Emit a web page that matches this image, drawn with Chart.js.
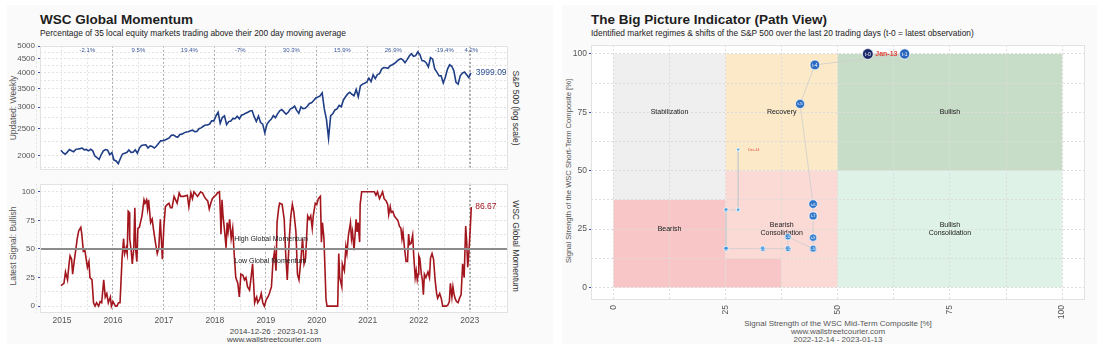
<!DOCTYPE html>
<html>
<head>
<meta charset="utf-8">
<script src="https://cdn.jsdelivr.net/npm/chart.js@4.4.0/dist/chart.umd.min.js"></script>
<style>
  body { margin: 0; width: 1103px; height: 354px; background: #fff; position: relative; overflow: hidden;
         font-family: "Liberation Sans", Arial, sans-serif; }
  .panel { position: absolute; background: #fafafa; }
  .txt { position: absolute; white-space: nowrap; line-height: 1; }
  .title { font-weight: bold; font-size: 13.5px; color: #1e1e1e; }
  .sub { font-size: 8.4px; color: #222; }
  .rotL { transform: translate(-50%, -50%) rotate(-90deg); }
  .rotR { transform: translate(-50%, -50%) rotate(90deg); }
  .ctr { transform: translateX(-50%); text-align: center; }
  canvas { position: absolute; }
</style>
</head>
<body>
<div class="panel" style="left:7px;top:5px;width:546px;height:339px"></div>
<div class="panel" style="left:562px;top:5px;width:535px;height:339px"></div>

<div class="txt title" style="left:40px;top:13px">WSC Global Momentum</div>
<div class="txt sub" style="left:40px;top:29px">Percentage of 35 local equity markets trading above their 200 day moving average</div>
<div class="txt rotL" style="left:13px;top:108px;font-size:8.5px;color:#555">Updated: Weekly</div>
<div class="txt rotL" style="left:13px;top:246px;font-size:8.5px;color:#555">Latest Signal: Bullish</div>
<div class="txt rotR" style="left:516px;top:108px;font-size:8.5px;color:#333">S&amp;P 500 (log scale)</div>
<div class="txt rotR" style="left:516px;top:246px;font-size:8.5px;color:#333">WSC Global Momentum</div>
<div class="txt ctr" style="left:274px;top:328px;font-size:8px;color:#444">2014-12-26 : 2023-01-13</div>
<div class="txt ctr" style="left:274px;top:336px;font-size:8px;color:#444">www.wallstreetcourier.com</div>

<div class="txt title" style="left:591px;top:13px">The Big Picture Indicator (Path View)</div>
<div class="txt sub" style="left:591px;top:29px">Identified market regimes &amp; shifts of the S&amp;P 500 over the last 20 trading days (t-0 = latest observation)</div>
<div class="txt rotL" style="left:569px;top:171px;font-size:7.6px;color:#555">Signal Strength of the WSC Short-Term Composite [%]</div>
<div class="txt ctr" style="left:838px;top:320px;font-size:8px;color:#555">Signal Strength of the WSC Mid-Term Composite [%]</div>
<div class="txt ctr" style="left:838px;top:328px;font-size:8px;color:#555">www.wallstreetcourier.com</div>
<div class="txt ctr" style="left:838px;top:336px;font-size:8px;color:#555">2022-12-14 - 2023-01-13</div>

<canvas id="spx" width="546" height="140" style="left:7px;top:38px"></canvas>
<canvas id="mom" width="546" height="152" style="left:7px;top:176px"></canvas>
<canvas id="path" width="535" height="306" style="left:562px;top:38px"></canvas>

<script>
// ---- S&P 500, semi-monthly closes from 2014-12-26 to 2023-01-13
const spxStartYear = 2014.98;
const spxStepYears = 1 / 24;
const spxValues = [
  2088,
  2044, 2019, 2055, 2100, 2079, 2061, 2102, 2108, 2116, 2126, 2094, 2101, 2077, 2104, 2077, 1988, 1961, 1931, 2014, 2075, 2099, 2089, 2012, 2044,
  1922, 1907, 1864, 1948, 2022, 2035, 2047, 2091, 2050, 2052, 2096, 2037, 2130, 2173, 2182, 2183, 2127, 2164, 2153, 2126, 2164, 2213, 2259, 2263,
  2275, 2295, 2316, 2367, 2373, 2343, 2328, 2384, 2390, 2415, 2433, 2438, 2459, 2472, 2441, 2443, 2500, 2519, 2553, 2581, 2582, 2602, 2675, 2673,
  2786, 2872, 2619, 2747, 2786, 2588, 2656, 2670, 2727, 2721, 2779, 2718, 2801, 2818, 2850, 2874, 2904, 2913, 2767, 2658, 2781, 2633, 2599, 2416,
  2596, 2664, 2707, 2792, 2743, 2834, 2907, 2940, 2881, 2826, 2873, 2950, 2976, 3025, 2918, 2847, 3007, 2962, 2970, 3022, 3093, 3110, 3169, 3240,
  3265, 3295, 3380, 2954, 2711, 2305, 2790, 2836, 2929, 2955, 3041, 3009, 3185, 3271, 3351, 3397, 3341, 3298, 3477, 3270, 3585, 3638, 3663, 3703,
  3824, 3714, 3934, 3811, 3943, 3974, 4128, 4180, 4173, 4156, 4247, 4281, 4327, 4395, 4468, 4509, 4459, 4357, 4471, 4605, 4698, 4595, 4620, 4766,
  4662, 4431, 4418, 4348, 4204, 4543, 4488, 4132, 4023, 3901, 3900, 3674, 3863, 4130, 4280, 4228, 4067, 3693, 3640, 3901, 3993, 4026, 3934, 3844,
  3999.09
];
const spxTickValues = [2000, 2500, 3000, 3500, 4000, 4500, 5000];
const spxGridValues = [1800, 2000, 2250, 2500, 2750, 3000, 3250, 3500, 3750, 4000, 4250, 4500, 4750, 5000];

// calendar-year S&P 500 returns
const returnYears = [2015, 2016, 2017, 2018, 2019, 2020, 2021, 2022, 2023];
const returnLabels = ['-2.1%', '9.5%', '19.4%', '-7%', '30.3%', '15.9%', '26.9%', '-19.4%', '4.2%'];

// ---- WSC Global Momentum (% of markets above 200d MA)
const momentumYears = [
  2014.98, 2015.04, 2015.07, 2015.11, 2015.14, 2015.16, 2015.19, 2015.21, 2015.24, 2015.28, 2015.30, 2015.33, 2015.37, 2015.39, 2015.42, 2015.45,
  2015.50, 2015.53, 2015.55, 2015.59, 2015.62, 2015.65, 2015.68, 2015.72, 2015.75, 2015.78, 2015.82, 2015.85, 2015.88, 2015.91, 2015.95, 2015.97,
  2016.00, 2016.05, 2016.08, 2016.11, 2016.14, 2016.18, 2016.21, 2016.23, 2016.26, 2016.28, 2016.30, 2016.32, 2016.33, 2016.36, 2016.38, 2016.41,
  2016.43, 2016.45, 2016.47, 2016.49, 2016.52, 2016.54, 2016.57, 2016.61, 2016.63, 2016.66, 2016.68, 2016.70, 2016.74, 2016.77, 2016.80, 2016.84,
  2016.87, 2016.90, 2016.93, 2016.97,
  2017.00, 2017.03, 2017.07, 2017.10, 2017.13, 2017.16, 2017.20, 2017.23, 2017.26, 2017.30, 2017.33, 2017.39, 2017.46, 2017.49, 2017.53, 2017.56,
  2017.59, 2017.66, 2017.72, 2017.76, 2017.79, 2017.82, 2017.86, 2017.89, 2017.92, 2017.95, 2017.99,
  2018.02, 2018.05, 2018.09, 2018.11, 2018.12, 2018.14, 2018.16, 2018.19, 2018.22, 2018.24, 2018.26, 2018.29, 2018.32, 2018.35, 2018.38, 2018.41,
  2018.45, 2018.48, 2018.51, 2018.55, 2018.58, 2018.61, 2018.64, 2018.68, 2018.71, 2018.74, 2018.78, 2018.80, 2018.82, 2018.84, 2018.88, 2018.91,
  2018.94, 2018.97,
  2019.01, 2019.04, 2019.07, 2019.11, 2019.14, 2019.17, 2019.20, 2019.22, 2019.25, 2019.27, 2019.32, 2019.36, 2019.39, 2019.42, 2019.46, 2019.49,
  2019.52, 2019.55, 2019.59, 2019.62, 2019.65, 2019.69, 2019.72, 2019.75, 2019.78, 2019.82, 2019.85, 2019.88, 2019.91, 2019.93, 2019.97,
  2020.00, 2020.03, 2020.07, 2020.09, 2020.11, 2020.14, 2020.18, 2020.20, 2020.24, 2020.31, 2020.37, 2020.41, 2020.43, 2020.45, 2020.49, 2020.50,
  2020.54, 2020.57, 2020.59, 2020.62, 2020.66, 2020.68, 2020.70, 2020.73, 2020.77, 2020.79, 2020.81, 2020.84, 2020.85, 2020.88, 2020.93,
  2021.00, 2021.06, 2021.13, 2021.16, 2021.19, 2021.23, 2021.26, 2021.29, 2021.32, 2021.36, 2021.39, 2021.41, 2021.44, 2021.46, 2021.49, 2021.52,
  2021.55, 2021.59, 2021.62, 2021.65, 2021.67, 2021.69, 2021.72, 2021.75, 2021.78, 2021.80, 2021.82, 2021.85, 2021.88, 2021.90, 2021.93, 2021.95,
  2021.97, 2021.99,
  2022.00, 2022.02, 2022.05, 2022.07, 2022.09, 2022.11, 2022.14, 2022.18, 2022.21, 2022.23, 2022.26, 2022.29, 2022.32, 2022.35, 2022.37, 2022.41,
  2022.44, 2022.47, 2022.54, 2022.57, 2022.60, 2022.62, 2022.65, 2022.67, 2022.69, 2022.71, 2022.74, 2022.77, 2022.80, 2022.83, 2022.86, 2022.89,
  2022.92, 2022.94, 2022.96, 2022.98, 2023.01, 2023.03
];
const momentumValues = [
  18, 20, 30, 23, 37, 44, 41, 28, 39, 52, 59, 66, 69, 63, 48, 49,
  34, 39, 25, 23, 3, 0, 3, 0, 4, 3, 23, 8, 11, 3, 8, 0,
  4, 0, 0, 3, 3, 42, 59, 46, 51, 46, 83, 82, 59, 48, 37, 51,
  86, 48, 39, 68, 69, 73, 79, 93, 90, 93, 85, 93, 73, 76, 66, 54,
  46, 51, 76, 41,
  70, 87, 89, 90, 86, 86, 96, 93, 90, 99, 96, 96, 97, 87, 99, 94,
  100, 96, 100, 99, 96, 94, 92, 85, 90, 94, 96,
  97, 99, 100, 79, 63, 93, 79, 66, 51, 73, 65, 76, 59, 68, 45, 25,
  20, 8, 28, 27, 23, 25, 17, 14, 25, 37, 3, 6, 8, 3, 6, 11,
  3, 0,
  6, 8, 11, 17, 39, 48, 31, 73, 85, 90, 89, 76, 45, 23, 59, 79,
  89, 82, 65, 28, 23, 42, 59, 37, 42, 79, 76, 79, 68, 79, 90,
  89, 94, 96, 56, 73, 59, 6, 0, 0, 0, 0, 0, 46, 25, 17, 37,
  31, 52, 46, 62, 73, 59, 65, 49, 76, 65, 73, 56, 89, 100, 100,
  100, 100, 100, 97, 100, 94, 97, 100, 94, 92, 89, 80, 87, 82, 83, 79,
  77, 75, 70, 68, 59, 65, 51, 39, 39, 63, 54, 55, 62, 45, 25, 31,
  23, 28,
  44, 42, 28, 23, 10, 28, 25, 30, 25, 42, 46, 41, 23, 11, 7, 11,
  7, 0, 0, 1, 4, 20, 8, 17, 11, 7, 4, 3, 7, 10, 37, 25,
  70, 56, 34, 45, 68, 86.67
];
const momentumThreshold = 50;
const momentumTicks = [0, 25, 50, 75, 100];
const momentumGrid = [0, 12.5, 25, 37.5, 50, 62.5, 75, 87.5, 100];
const yearGrid = [2014.5, 2015, 2015.5, 2016, 2016.5, 2017, 2017.5, 2018, 2018.5, 2019, 2019.5,
                  2020, 2020.5, 2021, 2021.5, 2022, 2022.5, 2023, 2023.5];
const zoneLabels = ['High Global Momentum', 'Low Global Momentum'];

// ---- Big Picture path (oldest -> latest)
const pathLabels = ['t-19', 't-18', 't-17', 't-16', 't-13', 't-12', 't-11', 't-10', 't-9', 't-7', 't-6', 't-5', 't-4', 't-1', 't-0'];
const pathMidTerm = [27.8, 27.8, 25.1, 25.1, 33.3, 38.9, 38.9, 44.5, 44.5, 44.5, 44.5, 41.6, 44.9, 64.9, 56.7];
const pathShortTerm = [59, 33.2, 33.2, 16.6, 16.6, 16.6, 21.7, 16.6, 21.3, 30.6, 35.7, 78.6, 95.3, 100, 100];
const pathFirstDate = 'Dec-14';
const pathLastDate = 'Jan-13';

// market regimes: name and its boxes [x0, x1, y0, y1] in composite units
const regimeNames = ['Stabilization', 'Recovery', 'Bullish', 'Bearish', 'Bearish\nConsolidation', 'Bullish\nConsolidation'];
const regimeBoxes = [
  [[0, 25, 37.5, 100]],
  [[25, 50, 50, 100]],
  [[50, 100, 50, 100]],
  [[0, 25, 0, 37.5], [25, 37.5, 0, 12.5]],
  [[25, 50, 12.5, 50], [37.5, 50, 0, 12.5]],
  [[50, 100, 0, 50]]
];
const regimeCenters = [[12.5, 75], [37.5, 75], [75, 75], [12.5, 25], [37.5, 25], [75, 25]];
const compositeTicks = [0, 12.5, 25, 37.5, 50, 62.5, 75, 87.5, 100];

// ---- styles
const FONT = '"Liberation Sans", Arial, sans-serif';
const regimeColors = ['#efefef', '#fce9c7', '#c8ddc7', '#f8c6c7', '#fbdad6', '#dff2e8'];
const tickBlue = '#3b4bb0';
const spxBlue = '#1f3e86';
const momRed = '#a3161e';

Chart.defaults.font.family = FONT;

// white plotting area with a light frame
const plotFrame = {
  id: 'plotFrame',
  beforeDraw(chart) {
    const a = chart.chartArea, ctx = chart.ctx;
    ctx.save();
    ctx.fillStyle = '#ffffff';
    ctx.fillRect(a.left, a.top, a.width, a.height);
    ctx.restore();
  },
  afterDraw(chart) {
    const a = chart.chartArea, ctx = chart.ctx;
    ctx.save();
    ctx.strokeStyle = '#e2e2e2';
    ctx.lineWidth = 1;
    ctx.strokeRect(Math.round(a.left) + 0.5, Math.round(a.top) + 0.5, Math.round(a.width) - 1, Math.round(a.height) - 1);
    ctx.restore();
  }
};

const xMin = 2014.57, xMax = 2023.75;
const lastYear = momentumYears[momentumYears.length - 1];

function yearAxis(showLabels) {
  return {
    type: 'linear', min: xMin, max: xMax,
    afterBuildTicks: (axis) => { axis.ticks = yearGrid.map(v => ({ value: v })); },
    ticks: {
      display: showLabels, autoSkip: false, padding: 3, color: '#555', font: { size: 8.5 },
      callback: (v) => Number.isInteger(v) ? String(v) : ''
    },
    grid: {
      drawTicks: false,
      color: (c) => (c.tick && Number.isInteger(c.tick.value) && c.tick.value >= 2016) ? '#a8a8a8' : '#e3e3e3',
      lineWidth: (c) => (c.tick && c.tick.value === 2023) ? 2 : 1
    },
    border: { display: false, dash: [2, 2] },
    afterFit: (s) => { s.height = showLabels ? 15 : 0; }
  };
}

// ---- top: S&P 500
const spxPlugin = {
  id: 'spxLabels',
  afterDatasetsDraw(chart) {
    const ctx = chart.ctx, x = chart.scales.x, y = chart.scales.y, a = chart.chartArea;
    ctx.save();
    ctx.fillStyle = '#3a5898';
    ctx.font = '6px ' + FONT;
    ctx.textAlign = 'center';
    ctx.textBaseline = 'middle';
    returnYears.forEach((yr, i) => {
      ctx.fillText(returnLabels[i], x.getPixelForValue(Math.min(yr + 0.5, lastYear)), a.top + 5);
    });
    const last = spxValues[spxValues.length - 1];
    const lastX = spxStartYear + (spxValues.length - 1) * spxStepYears;
    ctx.fillStyle = '#2d4f92';
    ctx.font = '8.5px ' + FONT;
    ctx.textAlign = 'left';
    ctx.fillText(last.toFixed(2), x.getPixelForValue(lastX) + 5, y.getPixelForValue(last));
    ctx.restore();
  }
};

new Chart(document.getElementById('spx'), {
  type: 'line',
  data: {
    datasets: [{
      data: spxValues.map((v, i) => ({ x: spxStartYear + i * spxStepYears, y: v })),
      borderColor: spxBlue, borderWidth: 1.6, pointRadius: 0, tension: 0
    }]
  },
  options: {
    responsive: false, animation: false, devicePixelRatio: 1,
    layout: { padding: { top: 4, bottom: 3, right: 45, left: 0 } },
    plugins: { legend: { display: false }, tooltip: { enabled: false } },
    scales: {
      x: yearAxis(false),
      y: {
        type: 'logarithmic', min: 1765, max: 5020,
        afterBuildTicks: (axis) => { axis.ticks = spxGridValues.map(v => ({ value: v })); },
        ticks: {
          autoSkip: false, padding: 3, color: '#555', font: { size: 8 },
          callback: (v) => spxTickValues.includes(v) ? String(v) : ''
        },
        grid: {
          tickLength: 2, color: '#e3e3e3',
          tickColor: (c) => (c.tick && spxTickValues.includes(c.tick.value)) ? tickBlue : 'rgba(0,0,0,0)'
        },
        border: { display: false, dash: [2, 2] },
        afterFit: (s) => { s.width = 33; }
      }
    }
  },
  plugins: [plotFrame, spxPlugin]
});

// ---- bottom: WSC Global Momentum
const momPlugin = {
  id: 'momLabels',
  afterDatasetsDraw(chart) {
    const ctx = chart.ctx, x = chart.scales.x, y = chart.scales.y;
    ctx.save();
    ctx.fillStyle = '#222';
    ctx.font = '7px ' + FONT;
    ctx.textAlign = 'left';
    ctx.textBaseline = 'middle';
    ctx.fillText(zoneLabels[0], x.getPixelForValue(2018.38), y.getPixelForValue(momentumThreshold + 9));
    ctx.fillText(zoneLabels[1], x.getPixelForValue(2018.38), y.getPixelForValue(momentumThreshold - 11));
    const last = momentumValues[momentumValues.length - 1];
    ctx.fillStyle = momRed;
    ctx.font = '8.5px ' + FONT;
    ctx.fillText(last.toFixed(2), x.getPixelForValue(lastYear) + 4, y.getPixelForValue(last));
    ctx.restore();
  }
};

new Chart(document.getElementById('mom'), {
  type: 'line',
  data: {
    datasets: [
      {
        data: [{ x: xMin, y: momentumThreshold }, { x: xMax, y: momentumThreshold }],
        borderColor: '#8c8c8c', borderWidth: 2, pointRadius: 0
      },
      {
        data: momentumValues.map((v, i) => ({ x: momentumYears[i], y: v })),
        borderColor: momRed, borderWidth: 1.6, pointRadius: 0, tension: 0
      }
    ]
  },
  options: {
    responsive: false, animation: false, devicePixelRatio: 1,
    layout: { padding: { top: 3, bottom: 0, right: 45, left: 0 } },
    plugins: { legend: { display: false }, tooltip: { enabled: false } },
    scales: {
      x: yearAxis(true),
      y: {
        type: 'linear', min: -6, max: 107,
        afterBuildTicks: (axis) => { axis.ticks = momentumGrid.map(v => ({ value: v })); },
        ticks: {
          autoSkip: false, padding: 3, color: '#555', font: { size: 8 },
          callback: (v) => momentumTicks.includes(v) ? String(v) : ''
        },
        grid: {
          tickLength: 2, color: '#e3e3e3',
          tickColor: (c) => (c.tick && momentumTicks.includes(c.tick.value)) ? tickBlue : 'rgba(0,0,0,0)'
        },
        border: { display: false, dash: [2, 2] },
        afterFit: (s) => { s.width = 33; }
      }
    }
  },
  plugins: [plotFrame, momPlugin]
});

// ---- right: Big Picture path view
const regimePlugin = {
  id: 'regimes',
  beforeDraw(chart) {
    const ctx = chart.ctx, x = chart.scales.x, y = chart.scales.y;
    ctx.save();
    regimeBoxes.forEach((boxes, i) => {
      ctx.fillStyle = regimeColors[i];
      boxes.forEach(b => {
        const l = x.getPixelForValue(b[0]), r = x.getPixelForValue(b[1]);
        const t = y.getPixelForValue(b[3]), btm = y.getPixelForValue(b[2]);
        ctx.fillRect(l, t, r - l, btm - t);
      });
    });
    ctx.restore();
  },
  beforeDatasetsDraw(chart) {
    const ctx = chart.ctx, x = chart.scales.x, y = chart.scales.y;
    ctx.save();
    ctx.fillStyle = '#1a1a1a';
    ctx.font = '7px ' + FONT;
    ctx.textAlign = 'center';
    ctx.textBaseline = 'middle';
    regimeNames.forEach((name, i) => {
      const lines = name.split('\n');
      const cx = x.getPixelForValue(regimeCenters[i][0]);
      const cy = y.getPixelForValue(regimeCenters[i][1]);
      lines.forEach((ln, k) => ctx.fillText(ln, cx, cy + (k - (lines.length - 1) / 2) * 8.5));
    });
    ctx.restore();
  },
  afterDatasetsDraw(chart) {
    const ctx = chart.ctx;
    const meta = chart.getDatasetMeta(0);
    const n = pathLabels.length;
    ctx.save();
    ctx.textAlign = 'center';
    ctx.textBaseline = 'middle';
    meta.data.forEach((pt, i) => {
      const r = pointRadius(i);
      ctx.fillStyle = '#ffffff';
      ctx.font = Math.max(2.5, r * 0.95).toFixed(1) + 'px ' + FONT;
      ctx.fillText(pathLabels[i], pt.x, pt.y + 0.3);
    });
    const first = meta.data[0], last = meta.data[n - 1];
    ctx.fillStyle = '#e2473b';
    ctx.textAlign = 'left';
    ctx.font = 'bold 7px ' + FONT;
    ctx.fillText(pathLastDate, last.x + pointRadius(n - 1) + 2, last.y + 0.5);
    ctx.font = '3.5px ' + FONT;
    ctx.fillText(pathFirstDate, first.x + 10, first.y);
    ctx.restore();
  }
};

function pointRadius(i) {
  return 1.6 + 3.8 * i / (pathLabels.length - 1);
}
function pointColor(i) {
  const n = pathLabels.length;
  if (i === n - 1) return '#1c2a6c';
  const f = i / (n - 2);
  const c0 = [74, 165, 228], c1 = [40, 102, 190];
  const c = c0.map((v, k) => Math.round(v + (c1[k] - v) * f));
  return 'rgb(' + c.join(',') + ')';
}

function compositeAxis(isX) {
  return {
    type: 'linear',
    min: isX ? -5 : -5.4, max: isX ? 105.1 : 103.8,
    afterBuildTicks: (axis) => { axis.ticks = compositeTicks.map(v => ({ value: v })); },
    ticks: {
      autoSkip: false, padding: isX ? 5 : 2, color: '#555', font: { size: 8.5 },
      minRotation: isX ? 90 : 0, maxRotation: isX ? 90 : 0,
      callback: (v) => (v % 25 === 0) ? String(v) : ''
    },
    grid: {
      drawTicks: !isX, tickLength: 2, color: '#dcdcdc',
      tickColor: (c) => (c.tick && c.tick.value % 25 === 0) ? tickBlue : 'rgba(0,0,0,0)'
    },
    border: { display: false, dash: [2, 2] },
    afterFit: (s) => { if (isX) s.height = 44; else s.width = 29; }
  };
}

new Chart(document.getElementById('path'), {
  type: 'scatter',
  data: {
    datasets: [{
      data: pathMidTerm.map((v, i) => ({ x: v, y: pathShortTerm[i] })),
      showLine: true,
      borderColor: '#cdcdcd', borderWidth: 0.8,
      pointRadius: (c) => pointRadius(c.dataIndex),
      pointBackgroundColor: (c) => pointColor(c.dataIndex),
      pointBorderColor: '#ffffff', pointBorderWidth: 0.7
    }]
  },
  options: {
    responsive: false, animation: false, devicePixelRatio: 1,
    layout: { padding: { top: 4, bottom: 0, right: 12, left: 0 } },
    plugins: { legend: { display: false }, tooltip: { enabled: false } },
    scales: { x: compositeAxis(true), y: compositeAxis(false) }
  },
  plugins: [plotFrame, regimePlugin]
});
</script>
</body>
</html>
